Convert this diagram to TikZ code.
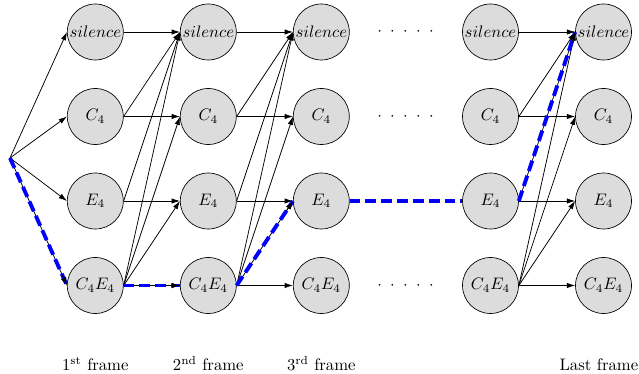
\documentclass[tikz,border=0pt]{standalone}
\usetikzlibrary{arrows.meta,calc}
\definecolor{nodegray}{RGB}{220,220,220}
\newcommand\fivedots{$\cdot$\hspace{5pt}$\cdot$\hspace{5pt}$\cdot$\hspace{5pt}$\cdot$\hspace{5pt}$\cdot$}
\tikzset{
  state/.style={circle,draw,fill=nodegray,minimum size=33.6pt,inner sep=0pt},
  edge/.style={-{Latex[length=5pt,width=3.2pt]},line width=0.45pt},
  bestpath/.style={blue,line width=2.3pt,dash pattern=on 6.5pt off 3pt},
  framelabel/.style={anchor=base,inner sep=0pt},
  dotrow/.style={inner sep=0pt}
}
\begin{document}
\begin{tikzpicture}[x=0.6pt,y=-0.6pt]
\useasboundingbox (0,0) rectangle (639,374);
% columns
\foreach \c/\x in {1/95.3,2/208.3,3/321.3,4/490.5,5/603.5}{
  \node[state] (s\c) at (\x,32) {$silence$};
  \node[state] (c\c) at (\x,116.5) {$C_4$};
  \node[state] (e\c) at (\x,201) {$E_4$};
  \node[state] (x\c) at (\x,285.5) {$C_4E_4$};
}
\coordinate (start) at (10,158);
% start edges
\foreach \t in {s1,c1,e1,x1}
  \draw[edge] (start) -- (\t.west);
% transitions
\foreach \a/\b in {1/2,2/3,4/5}{
  \draw[edge] (s\a.east) -- (s\b.west);
  \draw[edge] (c\a.east) -- (s\b.west);
  \draw[edge] (c\a.east) -- (c\b.west);
  \draw[edge] (e\a.east) -- (s\b.west);
  \draw[edge] (e\a.east) -- (e\b.west);
  \draw[edge] (x\a.east) -- (s\b.west);
  \draw[edge] (x\a.east) -- (c\b.west);
  \draw[edge] (x\a.east) -- (e\b.west);
  \draw[edge] (x\a.east) -- (x\b.west);
}
% best path
\draw[bestpath] (start) -- (x1.west);
\draw[bestpath] (x1.east) -- (x2.west);
\draw[bestpath] (x2.east) -- (e3.west);
\draw[bestpath] (e3.east) -- (e4.west);
\draw[bestpath] (e4.east) -- (s5.west);
% arrow tips over the path
\draw[edge] ($(x1.west)!7pt!(start)$) -- (x1.west);
\draw[edge] ($(x2.west)!7pt!(x1.east)$) -- (x2.west);
\draw[edge] ($(e3.west)!7pt!(x2.east)$) -- (e3.west);
\draw[edge] ($(s5.west)!7pt!(e4.east)$) -- (s5.west);
% dots
\node[dotrow] (d1) at (405.5,32) {\fivedots};
\node[dotrow] (d2) at (405.5,116.5) {\fivedots};
\node[dotrow] (d3) at (405.5,285.5) {\fivedots};
% frame labels
\node[framelabel] (l1) at (95.3,371) {1\textsuperscript{st} frame};
\node[framelabel] (l2) at (208.3,371) {2\textsuperscript{nd} frame};
\node[framelabel] (l3) at (321.3,371) {3\textsuperscript{rd} frame};
\node[framelabel,anchor=base east] (l4) at (638.5,371) {Last frame};
\end{tikzpicture}
\end{document}
